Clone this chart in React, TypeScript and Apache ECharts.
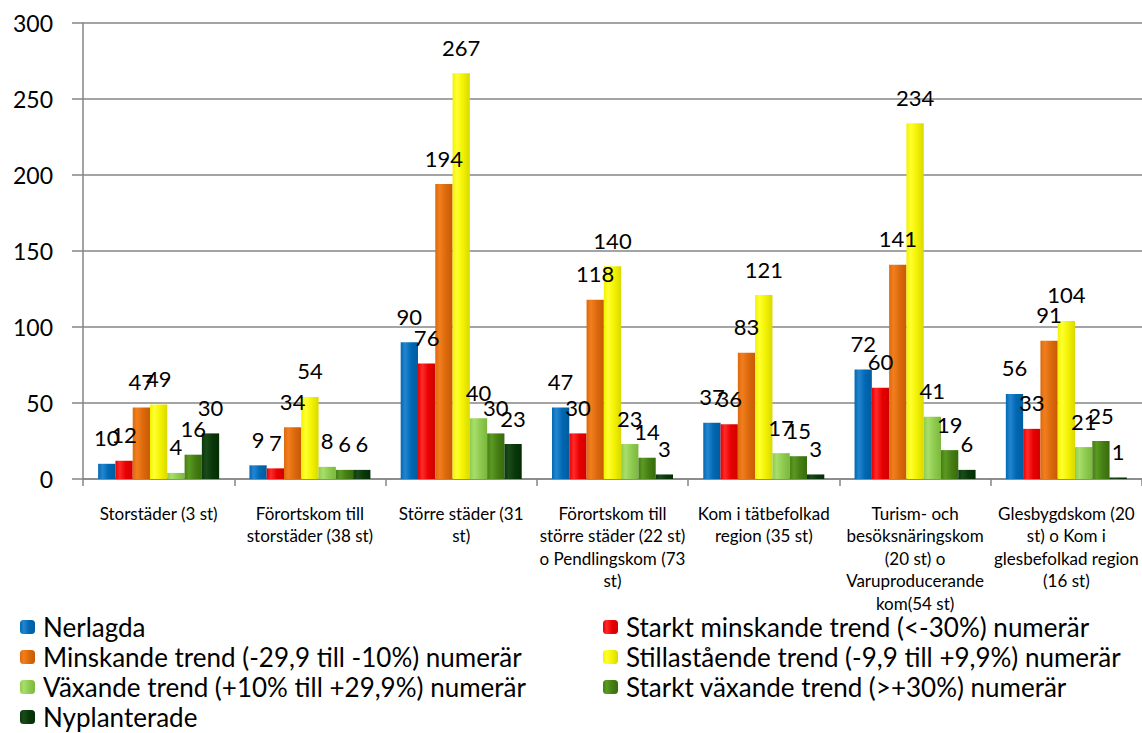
import React, { useEffect, useRef } from "react";
import * as echarts from "echarts";

const categories = [
  "Storstäder (3 st)",
  "Förortskom till\nstorstäder (38 st)",
  "Större städer (31\nst)",
  "Förortskom till\nstörre städer (22 st)\no Pendlingskom (73\nst)",
  "Kom i tätbefolkad\nregion (35 st)",
  "Turism- och\nbesöksnäringskom\n(20 st) o\nVaruproducerande\nkom(54 st)",
  "Glesbygdskom (20\nst) o Kom i\nglesbefolkad region\n(16 st)",
];

const seriesNames = [
  "Nerlagda",
  "Starkt minskande trend (<-30%) numerär",
  "Minskande trend (-29,9 till -10%) numerär",
  "Stillastående trend (-9,9 till +9,9%) numerär",
  "Växande trend (+10% till +29,9%) numerär",
  "Starkt växande trend (>+30%) numerär",
  "Nyplanterade",
];

const nerlagda = [10, 9, 90, 47, 37, 72, 56];
const starktMinskande = [12, 7, 76, 30, 36, 60, 33];
const minskande = [47, 34, 194, 118, 83, 141, 91];
const stillastaende = [49, 54, 267, 140, 121, 234, 104];
const vaxande = [4, 8, 40, 23, 17, 41, 21];
const starktVaxande = [16, 6, 30, 14, 15, 19, 25];
const nyplanterade = [30, 6, 23, 3, 3, 6, 1];

const seriesValues = [nerlagda, starktMinskande, minskande, stillastaende, vaxande, starktVaxande, nyplanterade];

const yTicks = [0, 50, 100, 150, 200, 250, 300];

const palette = [
  ["#005C9E", "#2585CF", "#0068B3"],
  ["#D00000", "#FF2A2A", "#E80000"],
  ["#C75A06", "#F27E1E", "#DC6A0C"],
  ["#D9D900", "#FFFF30", "#F2F200"],
  ["#7DB83E", "#A8DE6A", "#8FCB50"],
  ["#376C0C", "#5A9A22", "#467E14"],
  ["#052C05", "#1B4A1B", "#0A380A"],
];

// legend layout: [seriesIndex, left, centerY]
const legendSlots: [number, number, number][] = [
  [0, 20, 627],
  [1, 603, 627],
  [2, 20, 657],
  [3, 603, 657],
  [4, 20, 687],
  [5, 603, 687],
  [6, 20, 717],
];

const FONT = "Lato, 'Liberation Sans', sans-serif";

function grad(c: string[]) {
  return new echarts.graphic.LinearGradient(0, 0, 1, 0, [
    { offset: 0, color: c[2] },
    { offset: 0.25, color: c[1] },
    { offset: 0.6, color: c[2] },
    { offset: 1, color: c[0] },
  ]);
}

export default function App() {
  const ref = useRef<HTMLDivElement>(null);
  useEffect(() => {
    if (!ref.current) return;
    const chart = echarts.init(ref.current, null, { renderer: "svg" });
    const axisGray = "#868686";
    chart.setOption({
      animation: false,
      backgroundColor: "#fff",
      textStyle: { fontFamily: FONT },
      grid: { left: 83, right: 0, top: 23, bottom: 254, containLabel: false },
      legend: legendSlots.map(([si, left, cy]) => ({
        orient: "horizontal",
        left,
        top: cy - 15,
        padding: 0,
        itemWidth: 15,
        itemHeight: 14,
        textStyle: {
          fontFamily: FONT,
          fontSize: 26,
          color: "#000",
          lineHeight: 30,
          padding: [0, 0, 0, 3],
        },
        data: [seriesNames[si]],
      })),
      xAxis: {
        type: "category",
        data: categories,
        axisLine: { lineStyle: { color: axisGray, width: 1.5 } },
        axisTick: { show: true, length: 7, lineStyle: { color: axisGray, width: 1.5 } },
        axisLabel: {
          interval: 0,
          fontFamily: FONT,
          fontSize: 17,
          lineHeight: 22.5,
          color: "#000",
          margin: 23,
        },
      },
      yAxis: {
        type: "value",
        min: yTicks[0],
        max: yTicks[yTicks.length - 1],
        interval: 50,
        axisLine: { show: true, lineStyle: { color: axisGray, width: 1.5 } },
        axisTick: { show: true, length: 11, lineStyle: { color: axisGray, width: 1.5 } },
        splitLine: { lineStyle: { color: axisGray, width: 1.5 } },
        axisLabel: { fontFamily: FONT, fontSize: 23, color: "#000", margin: 30 },
      },
      series: seriesNames.map((name, i) => ({
        name,
        type: "bar",
        data: seriesValues[i],
        barGap: "0%",
        barCategoryGap: "20%",
        itemStyle: { color: grad(palette[i]) },
        label: {
          show: true,
          position: "top",
          distance: 15,
          fontFamily: FONT,
          fontSize: 22,
          color: "#000",
        },
      })),
    });
    return () => chart.dispose();
  }, []);
  return (
    <div
      ref={ref}
      style={{ position: "fixed", left: 0, top: 0, width: 1142, height: 733, background: "#fff" }}
    />
  );
}
